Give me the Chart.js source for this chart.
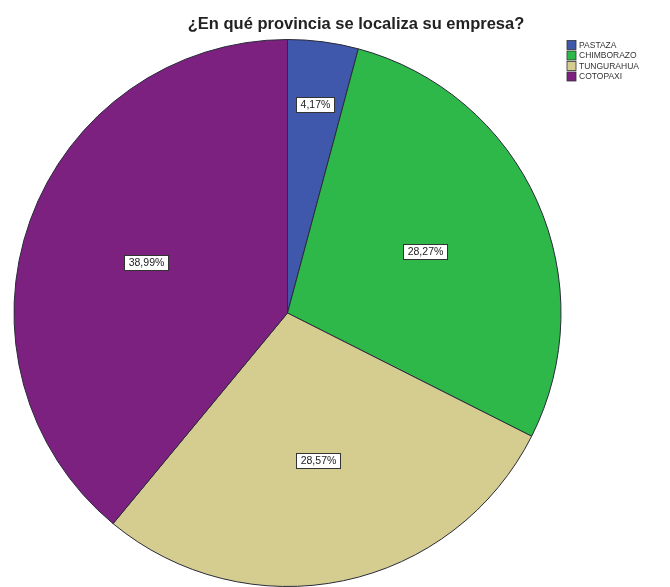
<!DOCTYPE html>
<html>
<head>
<meta charset="utf-8">
<script src="https://cdn.jsdelivr.net/npm/chart.js@4/dist/chart.umd.min.js"></script>
<style>
  html, body { margin: 0; padding: 0; background: #ffffff; }
  #wrap { width: 670px; height: 587px; position: relative; }
</style>
</head>
<body>
<div id="wrap"><canvas id="chart" width="670" height="587"></canvas></div>
<script>
// Provinces and their share of companies (%)
const provinces = ['PASTAZA', 'CHIMBORAZO', 'TUNGURAHUA', 'COTOPAXI'];
const shares = [4.17, 28.27, 28.57, 38.99];
const shareLabels = ['4,17%', '28,27%', '28,57%', '38,99%'];
const sliceColors = ['#3f58ab', '#2fb84a', '#d5cd8f', '#7c2180'];
const titleText = '¿En qué provincia se localiza su empresa?';

// Title, legend and value boxes drawn on top of the pie
const annotations = {
  id: 'annotations',
  afterDraw(chart) {
    const ctx = chart.ctx;
    ctx.save();

    // Title
    ctx.fillStyle = '#222222';
    ctx.font = 'bold 16.5px "Liberation Sans", Arial, sans-serif';
    ctx.textAlign = 'center';
    ctx.textBaseline = 'alphabetic';
    ctx.fillText(titleText, 356, 29);

    // Legend
    ctx.font = '8.5px "Liberation Sans", Arial, sans-serif';
    ctx.textAlign = 'left';
    ctx.textBaseline = 'middle';
    provinces.forEach((name, i) => {
      const y = 45 + i * 10.5;
      ctx.fillStyle = sliceColors[i];
      ctx.fillRect(567, y - 4.5, 9, 9);
      ctx.strokeStyle = '#333333';
      ctx.lineWidth = 0.8;
      ctx.strokeRect(567, y - 4.5, 9, 9);
      ctx.fillStyle = '#333333';
      ctx.fillText(name, 579, y + 0.5);
    });

    // Value boxes inside each slice
    const meta = chart.getDatasetMeta(0);
    ctx.font = '10.5px "Liberation Sans", Arial, sans-serif';
    ctx.textAlign = 'center';
    meta.data.forEach((arc, i) => {
      const p = arc.getProps(['x', 'y', 'startAngle', 'endAngle', 'outerRadius'], true);
      const mid = (p.startAngle + p.endAngle) / 2;
      const span = p.endAngle - p.startAngle;
      const frac = span < 0.5 ? 0.77 : 0.55;
      const lx = p.x + Math.cos(mid) * p.outerRadius * frac;
      const ly = p.y + Math.sin(mid) * p.outerRadius * frac;
      const txt = shareLabels[i];
      const w = Math.round(ctx.measureText(txt).width + 8);
      const h = 15;
      const bx = Math.round(lx - w / 2);
      const by = Math.round(ly - h / 2);
      ctx.fillStyle = '#ffffff';
      ctx.fillRect(bx, by, w, h);
      ctx.strokeStyle = '#333333';
      ctx.lineWidth = 1;
      ctx.strokeRect(bx + 0.5, by + 0.5, w, h);
      ctx.fillStyle = '#222222';
      ctx.fillText(txt, bx + w / 2 + 0.5, by + h / 2 + 1);
    });

    ctx.restore();
  }
};

new Chart(document.getElementById('chart'), {
  type: 'pie',
  data: {
    labels: provinces,
    datasets: [{
      data: shares,
      backgroundColor: sliceColors,
      borderColor: '#2a2a3a',
      borderWidth: 1
    }]
  },
  options: {
    responsive: false,
    animation: false,
    rotation: 0,
    layout: { padding: { top: 39, bottom: 0, left: 13, right: 108 } },
    plugins: {
      legend: { display: false },
      title: { display: false },
      tooltip: { enabled: false }
    }
  },
  plugins: [annotations]
});
</script>
</body>
</html>
